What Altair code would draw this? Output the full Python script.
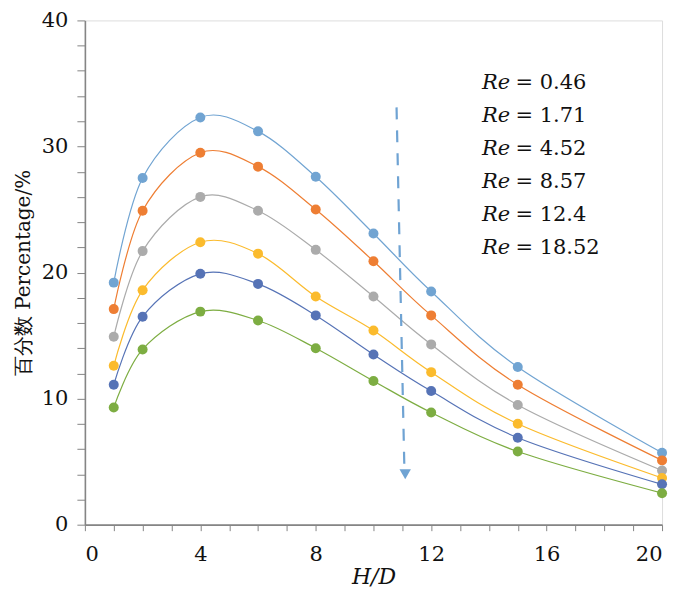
import altair as alt
import pandas as pd

# ---- data ----
hd = [1, 2, 4, 6, 8, 10, 12, 15, 20]
re_labels = ["0.46", "1.71", "4.52", "8.57", "12.4", "18.52"]
s_046 = [19.2, 27.5, 32.3, 31.2, 27.6, 23.1, 18.5, 12.5, 5.7]
s_171 = [17.1, 24.9, 29.5, 28.4, 25.0, 20.9, 16.6, 11.1, 5.1]
s_452 = [14.9, 21.7, 26.0, 24.9, 21.8, 18.1, 14.3, 9.5, 4.3]
s_857 = [12.6, 18.6, 22.4, 21.5, 18.1, 15.4, 12.1, 8.0, 3.7]
s_124 = [11.1, 16.5, 19.9, 19.1, 16.6, 13.5, 10.6, 6.9, 3.2]
s_1852 = [9.3, 13.9, 16.9, 16.2, 14.0, 11.4, 8.9, 5.8, 2.5]
series = [s_046, s_171, s_452, s_857, s_124, s_1852]
colors = ["#71A4D2", "#EE7E33", "#ABABAB", "#FBBB2D", "#5673B6", "#7DAD42"]

# arrow (data units): start, end, head
arrow_x = [10.8, 11.07]
arrow_y = [33.1, 4.6]
head_x = [11.1]
head_y = [4.0]

# annotation text positions (data units)
ann_x_re = 13.76
ann_x_val = 14.92
ann_y = [34.55, 31.93, 29.31, 26.69, 24.07, 21.45]

rows = []
for lab, vals in zip(re_labels, series):
    for x, v in zip(hd, vals):
        rows.append({"hd": x, "pct": v, "re": lab})
df = pd.DataFrame(rows)

SERIF = "DejaVu Serif"
GRAY = "#858585"

xscale = alt.Scale(domain=[0, 20], nice=False, zero=True)
yscale = alt.Scale(domain=[0, 40], nice=False)
cscale = alt.Scale(domain=re_labels, range=colors)

xaxis = alt.Axis(
    title="H/D", values=list(range(0, 21)),
    labelExpr="datum.value % 4 == 0 ? datum.label : ''",
)
yaxis = alt.Axis(
    title="百分数 Percentage/%", values=list(range(0, 41, 2)),
    labelExpr="datum.value % 10 == 0 ? datum.label : ''",
)
X = alt.X("hd:Q", scale=xscale, axis=xaxis)
Y = alt.Y("pct:Q", scale=yscale, axis=yaxis)

base = alt.Chart(df)
lines = base.mark_line(interpolate="cardinal", tension=0, strokeWidth=1.2).encode(
    x=X, y=Y,
    color=alt.Color("re:N", scale=cscale, legend=None),
    detail="re:N",
)
points = base.mark_point(filled=True, size=100, opacity=1).encode(
    x=X, y=Y,
    color=alt.Color("re:N", scale=cscale, legend=None),
)

arrow_df = pd.DataFrame({"hd": arrow_x, "pct": arrow_y, "o": [0, 1]})
arrow = alt.Chart(arrow_df).mark_line(
    color="#6FA3D3", strokeWidth=2.2, strokeDash=[12, 11]
).encode(x=X, y=Y, order="o:Q")
head = alt.Chart(pd.DataFrame({"hd": head_x, "pct": head_y})).mark_point(
    shape="triangle-down", filled=True, size=130, color="#6FA3D3", opacity=1
).encode(x=X, y=Y)

ann_df = pd.DataFrame({
    "pct": ann_y,
    "v": ["= " + s for s in re_labels],
    "r": ["Re"] * 6,
    "hd_re": [ann_x_re] * 6,
    "hd_val": [ann_x_val] * 6,
})
ann_re = alt.Chart(ann_df).mark_text(
    font=SERIF, fontSize=21, fontStyle="italic", align="left", baseline="alphabetic", color="#111"
).encode(x=alt.X("hd_re:Q", scale=xscale, axis=xaxis), y=Y, text="r:N")
ann_val = alt.Chart(ann_df).mark_text(
    font=SERIF, fontSize=21, align="left", baseline="alphabetic", color="#111"
).encode(x=alt.X("hd_val:Q", scale=xscale, axis=xaxis), y=Y, text="v:N")

chart = alt.layer(lines, points, arrow, head, ann_re, ann_val).properties(
    width=578, height=505,
    autosize=alt.AutoSizeParams(type="none"),
    padding={"left": 77, "top": 12, "right": 30, "bottom": 70},
).configure_view(stroke=GRAY, strokeWidth=1.2).configure(
    background="white"
).configure_axis(
    grid=False, tickColor=GRAY, domainColor=GRAY, domainWidth=1.6,
    labelFont=SERIF, labelFontSize=21, labelColor="#111", labelOverlap=False,
    titleFontWeight="normal", titleColor="#111",
).configure_axisX(
    tickSize=6, labelPadding=13, titleFont=SERIF, titleFontSize=22,
    titleFontStyle="italic", titlePadding=2,
).configure_axisY(
    tickSize=8, labelPadding=9, titleFont=SERIF, titleFontSize=20, titlePadding=8,
)

chart.save("out.html", embed_options={"renderer": "svg", "actions": False})
